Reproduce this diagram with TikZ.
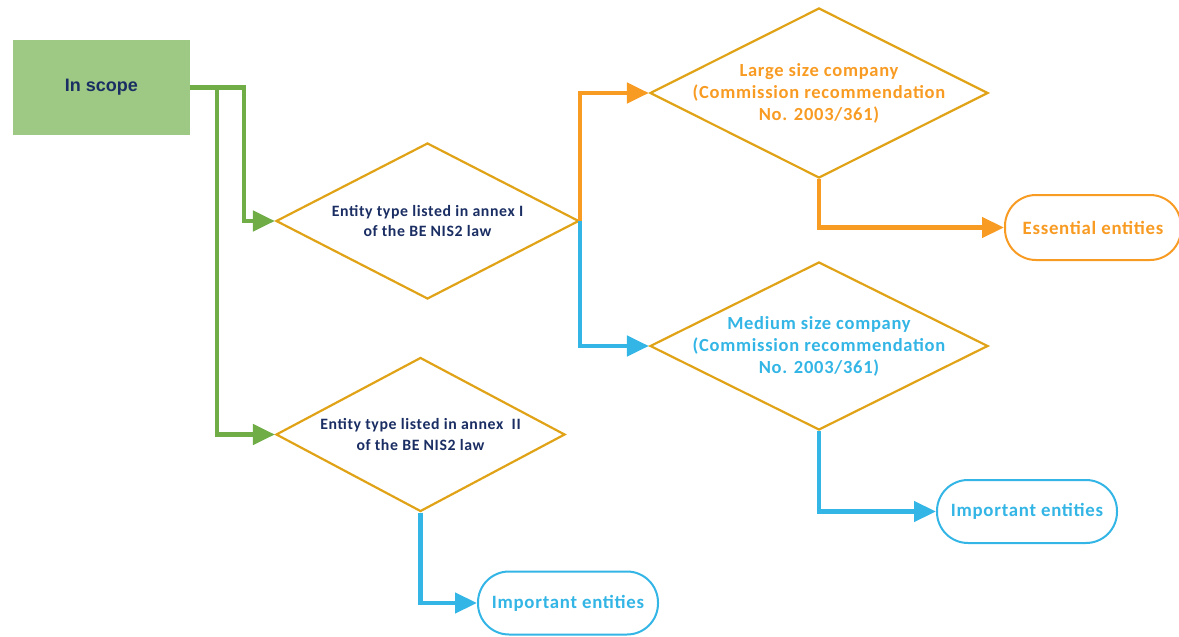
\documentclass[tikz,border=0pt]{standalone}
\usepackage{fontspec}
\setmainfont{Carlito}[LetterSpace=4]
\newfontfamily\scopefont{Liberation Sans}
\usetikzlibrary{shapes.geometric,arrows.meta}
\definecolor{leaf}{RGB}{157,201,133}
\definecolor{grass}{RGB}{112,173,71}
\definecolor{gold}{RGB}{224,163,23}
\definecolor{amber}{RGB}{248,155,35}
\definecolor{sky}{RGB}{51,181,229}
\definecolor{navy}{RGB}{27,46,99}
\tikzset{box/.style = {rectangle, fill=leaf, minimum width=177pt, minimum height=95pt, text=navy,
        font=\scopefont\bfseries\fontsize{18}{22}\selectfont},
    dia/.style = {diamond, draw=gold, line width=2.2pt, inner sep=0pt},
    txt/.style = {align=center, font=\bfseries\fontsize{15.8}{20.5}\selectfont, text=navy},
    big/.style = {align=center, font=\bfseries\fontsize{18.5}{22}\selectfont, text=#1},
    term/.style = {rectangle, rounded corners=31pt, draw=#1, text=#1, line width=2pt, fill=white,
        minimum width=180pt, minimum height=63pt, font=\bfseries\fontsize{18.8}{22}\selectfont},
    ln/.style = {draw=#1, line width=4.5pt, -{Triangle[length=22pt,width=20pt]}}}

\begin{document}
\begin{tikzpicture}[x=1pt, y=-1pt]
        \useasboundingbox (0,0) rectangle (1179,637);
        \node[box] (scope) at (101.5,87.5) {In scope};

        \node[dia, minimum width=303pt, minimum height=156pt,
            label={[txt]center:Entity type listed in annex I\\of the BE NIS2 law}] (d1) at (427.5,221) {};
        \node[dia, minimum width=289pt, minimum height=154pt,
            label={[txt]center:Entity type listed in annex\ \ II\\of the BE NIS2 law}] (d2) at (420.5,434.5) {};
        \node[dia, minimum width=338pt, minimum height=170pt,
            label={[big=amber]center:Large size company\\(Commission recommendation\\No. 2003/361)}] (d3) at (819,93) {};
        \node[dia, minimum width=338pt, minimum height=168pt,
            label={[big=sky]center:Medium size company\\(Commission recommendation\\No. 2003/361)}] (d4) at (819,346) {};

        \node[term=amber, minimum width=176pt, minimum height=65pt] (ess) at (1093,227.5) {Essential entities};
        \foreach \n/\x/\y in {imp1/1027/511.5, imp2/568/603}
            \node[term=sky] (\n) at (\x,\y) {Important entities};

        \draw[ln=grass] (scope.east) -| ([xshift=-31pt]d1.west) -- (d1.west);
        \draw[ln=grass] (scope.east) -| ([xshift=-58pt]d2.west) -- (d2.west);
        \draw[ln=amber] (d1.east) |- (d3.west);
        \draw[ln=sky] (d1.east) |- (d4.west);
        \draw[ln=amber] (d3.south) |- (ess.west);
        \draw[ln=sky] (d4.south) |- (imp1.west);
        \draw[ln=sky] (d2.south) |- (imp2.west);
    \end{tikzpicture}
\end{document}
